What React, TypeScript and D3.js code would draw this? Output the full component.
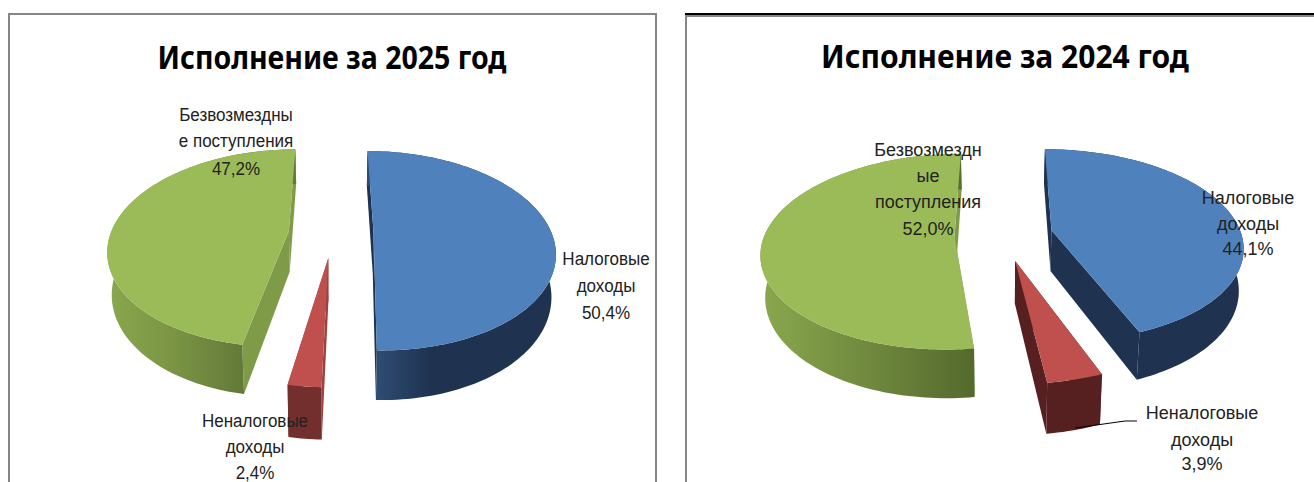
import React, { useEffect, useRef } from 'react';
import * as d3 from 'd3';

const categories = ['Налоговые доходы', 'Неналоговые доходы', 'Безвозмездные поступления'];
const values2025 = [50.4, 2.4, 47.2];
const values2024 = [44.1, 3.9, 52.0];
const explode2025 = [0.228, 0.25, 0.25];
const explode2024 = [0.267, 0.27, 0.25];

const topColors = ['#4f81bd', '#c0504d', '#9bbb59'];
const cutColors2025 = ['#1f3350', '#9c4240', '#809b48'];
const cutColors2024 = ['#1f3350', '#55201f', '#809b48'];
const wallStops2025 = [
  [['#2e4c72', 0], ['#1f3350', 0.3], ['#1f3350', 1]],
  [['#722f2e', 0], ['#722f2e', 1]],
  [['#8aa84e', 0], ['#7a9444', 0.5], ['#637a38', 1]],
];
const wallStops2024 = [
  [['#1f3350', 0], ['#1f3350', 1]],
  [['#55201f', 0], ['#55201f', 1]],
  [['#8aa84e', 0], ['#70893f', 0.5], ['#546a2d', 1]],
];

const labels2025 = [
  { lines: ['Налоговые', 'доходы', '50,4%'], x: 606, y: [265, 292, 319] },
  { lines: ['Неналоговые', 'доходы', '2,4%'], x: 255, y: [427, 453, 479] },
  { lines: ['Безвозмездны', 'е поступления', '47,2%'], x: 236, y: [121, 147, 175] },
];
const labels2024 = [
  { lines: ['Налоговые', 'доходы', '44,1%'], x: 1248, y: [204, 230, 255] },
  { lines: ['Неналоговые', 'доходы', '3,9%'], x: 1202, y: [419, 446, 470] },
  { lines: ['Безвозмездн', 'ые', 'поступления', '52,0%'], x: 928, y: [156, 182, 208, 235] },
];

const D = 41; // thickness
const LOW_X = 0.98; // the lower rim looks a little narrower than the top one

const draw = (svg, id, view, values, explode, cutColors, wallStops) => {
  const { cx, cy, A, B, K } = view;
  const project = (gx, gz, h = 0) => {
    const w = 1 + K * gz;
    const sx = h ? LOW_X * A : A;
    return [cx + (sx * gx) / w, cy + (-B * gz + h * D) / w];
  };
  const line = d3.line();
  const arcs = d3.pie().sort(null).startAngle(0).endAngle(2 * Math.PI)(values);
  const g = svg.append('g');
  const defs = svg.append('defs');

  arcs.forEach((d, i) => {
    const mid = (d.startAngle + d.endAngle) / 2;
    const ox = explode[i] * Math.sin(mid);
    const oz = explode[i] * Math.cos(mid);
    const n = Math.max(8, Math.ceil((d.endAngle - d.startAngle) * 40));
    const rim = d3.range(n + 1).map((k) => {
      const a = d.startAngle + ((d.endAngle - d.startAngle) * k) / n;
      return [ox + Math.sin(a), oz + Math.cos(a)];
    });
    const topRim = rim.map((p) => project(p[0], p[1]));
    const lowRim = rim.map((p) => project(p[0], p[1], 1));
    const apex = project(ox, oz);
    const apexLow = project(ox, oz, 1);

    // cut faces go first, the rim and the top lie over them
    [0, n].forEach((k) => {
      g.append('path')
        .attr('d', line([apex, topRim[k], lowRim[k], apexLow]) + 'Z')
        .attr('fill', cutColors[i]);
    });

    const frontRim = rim.filter((p) => p[1] - oz < 0.25);
    const xs = frontRim.map((p) => project(p[0], p[1])[0]);
    const gradId = `${id}-wall-${i}`;
    const grad = defs
      .append('linearGradient')
      .attr('id', gradId)
      .attr('gradientUnits', 'userSpaceOnUse')
      .attr('x1', d3.min(xs))
      .attr('x2', d3.max(xs))
      .attr('y1', 0)
      .attr('y2', 0);
    wallStops[i].forEach((s) => {
      grad.append('stop').attr('offset', s[1]).attr('stop-color', s[0]);
    });

    g.append('path')
      .attr('d', line([...topRim, ...lowRim.slice().reverse()]) + 'Z')
      .attr('fill', `url(#${gradId})`);
    g.append('path')
      .attr('d', line([apex, ...topRim]) + 'Z')
      .attr('fill', topColors[i]);
  });
};

const drawText = (svg, labels, squeeze) => {
  labels.forEach((l) => {
    l.lines.forEach((t, i) => {
      svg.append('text')
        .attr('transform', `translate(${l.x},${l.y[i]}) scale(${squeeze},1)`)
        .attr('text-anchor', 'middle')
        .attr('font-family', '"Liberation Sans Narrow", "Liberation Sans"')
        .attr('font-size', 18)
        .attr('fill', '#222')
        .text(t);
    });
  });
};

const drawTitle = (svg, text, x, y, width) => {
  svg.append('text')
    .attr('x', x)
    .attr('y', y)
    .attr('text-anchor', 'middle')
    .attr('font-family', '"Noto Sans"')
    .attr('font-weight', 700)
    .attr('font-size', 33)
    .attr('textLength', width)
    .attr('lengthAdjust', 'spacingAndGlyphs')
    .attr('fill', '#000')
    .text(text);
};

export default function App() {
  const svgRef = useRef(null);

  useEffect(() => {
    const svg = d3.select(svgRef.current);
    svg.selectAll('*').remove();

    // frames
    svg.append('rect').attr('width', 1314).attr('height', 482).attr('fill', '#fff');
    svg.append('path').attr('d', 'M9,482V14H656V482').attr('fill', 'none').attr('stroke', '#868686').attr('stroke-width', 2);
    svg.append('path').attr('d', 'M686,482V16H1314').attr('fill', 'none').attr('stroke', '#868686').attr('stroke-width', 2);
    svg.append('path').attr('d', 'M685,14H1314').attr('fill', 'none').attr('stroke', '#000').attr('stroke-width', 2);

    drawTitle(svg, 'Исполнение за 2025 год', 332, 69, 349);
    drawTitle(svg, 'Исполнение за 2024 год', 1005, 68, 368);

    draw(svg, 'y2025', { cx: 333, cy: 233, A: 178, B: 96.5, K: 0.175 }, values2025, explode2025, cutColors2025, wallStops2025);
    draw(svg, 'y2024', { cx: 1002, cy: 235, A: 190, B: 95, K: 0.155 }, values2024, explode2024, cutColors2024, wallStops2024);

    svg.append('path').attr('d', 'M1075,428L1125,421H1137').attr('fill', 'none').attr('stroke', '#000').attr('stroke-width', 1);

    drawText(svg, labels2025, 0.945);
    drawText(svg, labels2024, 1);
  }, []);

  return (
    <svg
      ref={svgRef}
      width={1314}
      height={482}
      aria-label={categories.join(', ')}
      style={{ position: 'fixed', left: 0, top: 0, display: 'block' }}
    />
  );
}
